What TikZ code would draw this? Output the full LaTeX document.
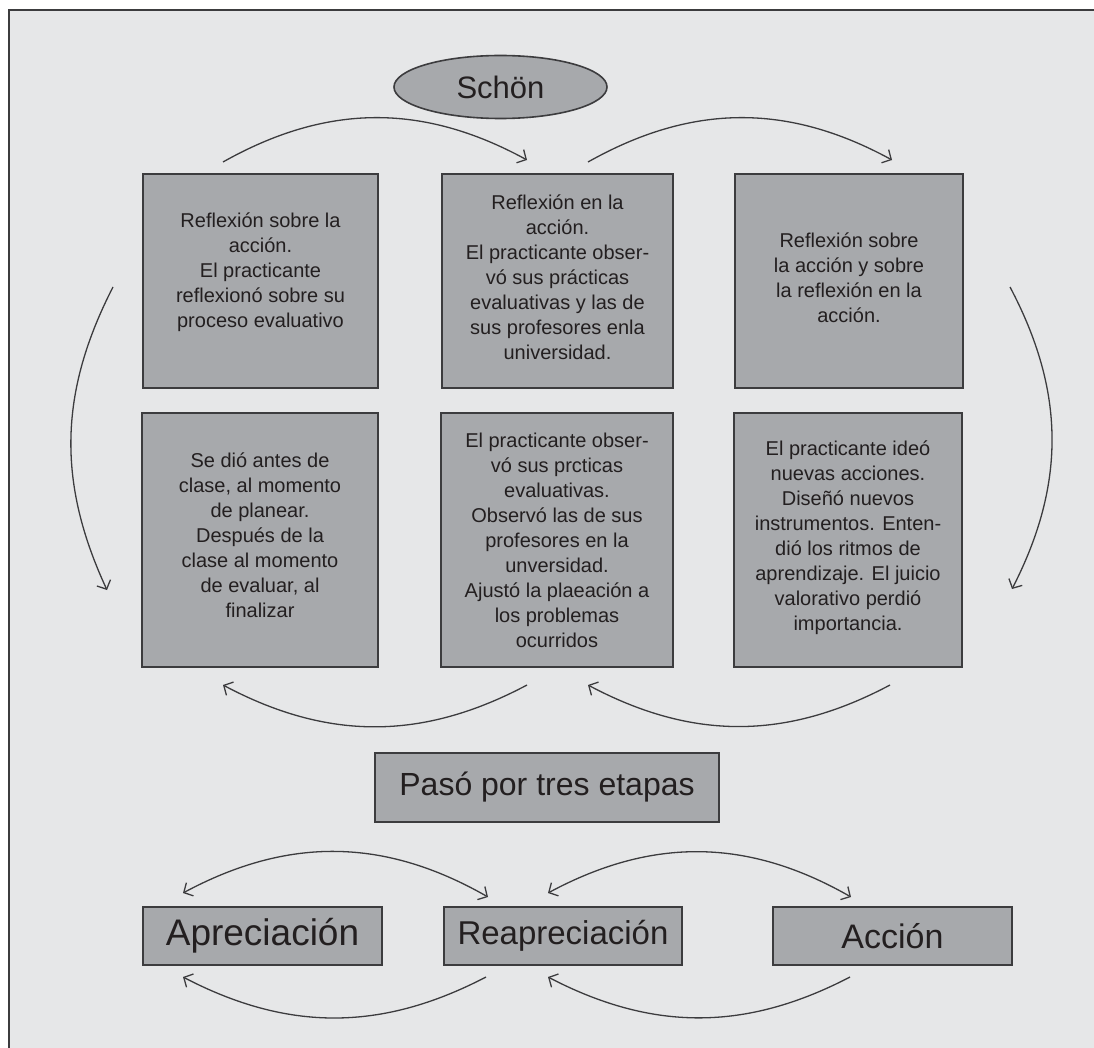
\documentclass[tikz,border=0pt]{standalone}
\usepackage{fontspec}
\setmainfont{Liberation Sans}
\usetikzlibrary{arrows.meta,shapes.geometric}
\definecolor{bgc}{HTML}{E6E7E8}
\definecolor{boxc}{HTML}{A7A9AC}
\definecolor{edgec}{HTML}{3C3C3E}
\definecolor{txtc}{HTML}{231F20}
\begin{document}
\begin{tikzpicture}[x=1pt,y=-1pt,
  box/.style={draw=edgec, line width=1.8pt, fill=boxc, inner sep=0pt, text=txtc},
  txt/.style={text=txtc, align=center, font=\fontsize{20}{25}\selectfont, inner sep=0pt},
  arc/.style={draw=edgec, line width=1.3pt, -{Straight Barb[length=7pt,width=15pt]}},
  darc/.style={draw=edgec, line width=1.3pt, {Straight Barb[length=7pt,width=15pt]}-{Straight Barb[length=7pt,width=15pt]}},
]
\useasboundingbox (0,0) rectangle (1094,1048);
\fill[white] (0,0) rectangle (1094,1048);
\fill[bgc] (9,10) rectangle (1094,1048);
\draw[edgec, line width=2.5pt] (9,1048) -- (9,10) -- (1094,10);

% Schön
\node[ellipse, draw=edgec, line width=1.6pt, fill=boxc, inner sep=0pt,
  minimum width=213pt, minimum height=63pt, text=txtc,
  font=\fontsize{31}{36}\selectfont] (schon) at (500.5,87) {Schön};

% top row boxes
\node[box, minimum width=235pt, minimum height=214pt] (b1) at (260.5,281) {};
\node[box, minimum width=231pt, minimum height=214pt] (b2) at (557.5,281) {};
\node[box, minimum width=228pt, minimum height=214pt] (b3) at (849,281) {};
% bottom row boxes
\node[box, minimum width=236pt, minimum height=254pt] (b4) at (260,540) {};
\node[box, minimum width=232pt, minimum height=254pt] (b5) at (557,540) {};
\node[box, minimum width=228pt, minimum height=254pt] (b6) at (848,540) {};

\node[txt] (t1) at (260.5,272) {Reflexión sobre la\\acción.\\El practicante\\reflexionó sobre su\\proceso evaluativo};
\node[txt] (t2) at (557.5,277) {Reflexión en la\\acción.\\El practicante obser-\\vó sus prácticas\\evaluativas y las de\\sus profesores enla\\universidad.};
\node[txt] (t3) at (849,277.5) {Reflexión sobre\\la acción y sobre\\la reflexión en la\\acción.};
\node[txt] (t4) at (260,535) {Se dió antes de\\clase, al momento\\de planear.\\Después de la\\clase al momento\\de evaluar, al\\finalizar};
\node[txt] (t5) at (557,540) {El practicante obser-\\vó sus prcticas\\evaluativas.\\Observó las de sus\\profesores en la\\unversidad.\\Ajustó la plaeación a\\los problemas\\ocurridos};
\node[txt] (t6) at (848,537.5) {El practicante ideó\\nuevas acciones.\\Diseñó nuevos\\instrumentos. Enten-\\dió los ritmos de\\aprendizaje. El juicio\\valorativo perdió\\importancia.};

% middle box
\node[box, line width=2.6pt, minimum width=344pt, minimum height=69pt,
  font=\fontsize{32}{36}\selectfont] (paso) at (547,787.5) {Pasó por tres etapas};

% bottom boxes
\node[box, minimum width=239pt, minimum height=58pt, font=\fontsize{37}{40}\selectfont] (apre) at (262.5,936) {Apreciación};
\node[box, minimum width=238pt, minimum height=58pt, font=\fontsize{33}{38}\selectfont] (reap) at (563,936) {Reapreciación};
\node[box, minimum width=239pt, minimum height=58pt, font=\fontsize{34}{38}\selectfont] (acci) at (892.5,936) {Acción};

% arc end points
\coordinate (a1s) at (223,162); \coordinate (a1e) at (527,160);
\coordinate (a2s) at (588,162); \coordinate (a2e) at (892,160);
\coordinate (ls) at (113,287); \coordinate (le) at (107,590);
\coordinate (rs) at (1010,287); \coordinate (re) at (1012,589);
\coordinate (m1s) at (527,685); \coordinate (m1e) at (223,685);
\coordinate (m2s) at (890,685); \coordinate (m2e) at (588,685);
\coordinate (u1s) at (183,893); \coordinate (u1e) at (488,897);
\coordinate (u2s) at (548,893); \coordinate (u2e) at (851,897);
\coordinate (l1s) at (486,977); \coordinate (l1e) at (183,977);
\coordinate (l2s) at (850,977); \coordinate (l2e) at (548,977);

\draw[arc] (a1s) to[bend left=29] (a1e);
\draw[arc] (a2s) to[bend left=29] (a2e);
\draw[arc] (ls) to[bend right=26] (le);
\draw[arc] (rs) to[bend left=27.5] (re);
\draw[arc] (m1s) to[bend left=28] (m1e);
\draw[arc] (m2s) to[bend left=28] (m2e);
\draw[darc] (u1s) to[bend left=29] (u1e);
\draw[darc] (u2s) to[bend left=29] (u2e);
\draw[arc] (l1s) to[bend left=27.5] (l1e);
\draw[arc] (l2s) to[bend left=27.5] (l2e);
\end{tikzpicture}
\end{document}
